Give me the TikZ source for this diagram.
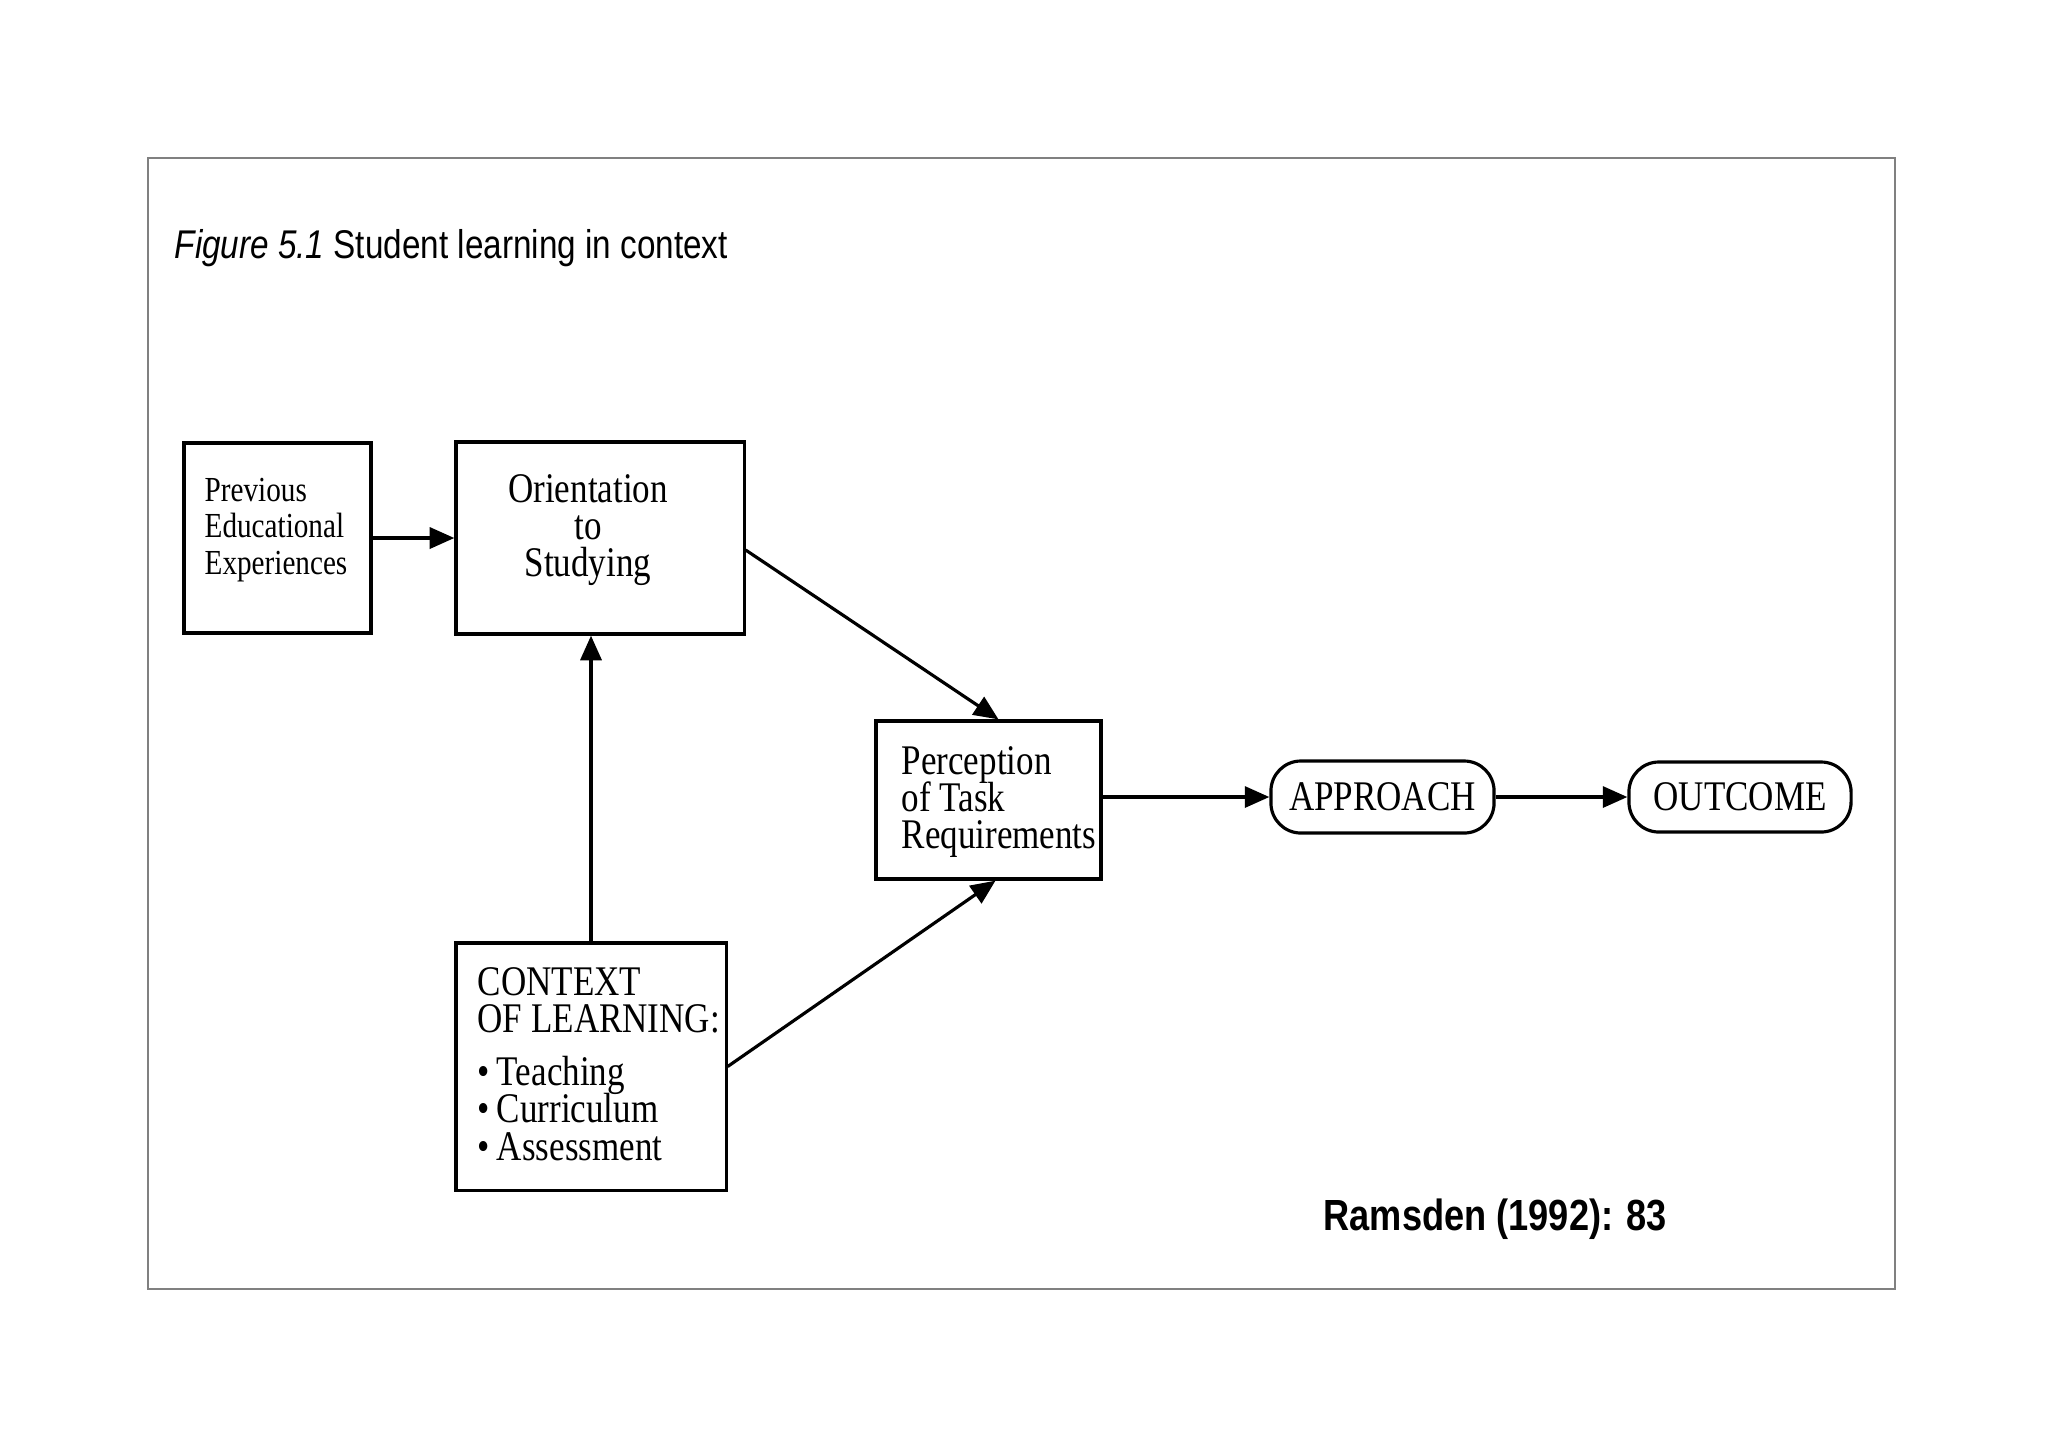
\documentclass[tikz,border=0pt]{standalone}
\usepackage{fontspec}
\setmainfont{Liberation Serif}[FakeStretch=0.83]
\newfontfamily\sansfont{Liberation Sans}[FakeStretch=0.83]
\usetikzlibrary{arrows.meta}
\setlength{\lineskiplimit}{-20pt}
\begin{document}
\begin{tikzpicture}[x=0.01cm,y=-0.01cm,
  box/.style={draw, line width=0.9pt, inner sep=0pt},
  pill/.style={box, rounded corners=0.3cm},
  tx/.style={inner sep=0pt, font=\fontsize{12}{10.6}\selectfont},
  arr/.style={-{Triangle[length=7pt,width=6pt]}, line width=0.9pt}]
\useasboundingbox (0,0) rectangle (2048,1447);
\fill[white] (0,0) rectangle (2048,1447);
\draw[gray, line width=0.5pt] (148,158) rectangle (1895,1289);
% title and source
\node[anchor=base west, inner sep=0pt, font=\sansfont\fontsize{11.4}{13}\selectfont] (title) at (174,258) {\itshape Figure 5.1\upshape\ Student learning in context};
\node[anchor=base west, inner sep=0pt, font=\sansfont\bfseries\fontsize{12.4}{14}\selectfont] (src) at (1323,1230) {Ramsden (1992): 83};
% boxes
\node[box, minimum width=1.87cm, minimum height=1.90cm] (prev) at (277.5,538) {};
\node[box, minimum width=2.88cm, minimum height=1.92cm] (orient) at (600,538) {};
\node[box, minimum width=2.25cm, minimum height=1.58cm] (perc) at (988.5,800) {};
\node[box, minimum width=2.70cm, minimum height=2.47cm] (ctx) at (591,1066.5) {};
\node[pill, minimum width=2.23cm, minimum height=0.72cm, tx] (app) at (1382.5,797) {APPROACH};
\node[pill, minimum width=2.22cm, minimum height=0.70cm, tx] (out) at (1740,797) {OUTCOME};
% texts
\node[tx, anchor=west, align=left, font=\fontsize{10}{10.4}\selectfont] (prevt) at (204,530) {Previous\\Educational\\Experiences};
\node[tx, align=center] (orientt) at (588,530) {Orientation\\to\\Studying};
\node[tx, anchor=west, align=left] (perct) at (901,802) {Perception\\of Task\\Requirements};
\node[tx, anchor=west, align=left] (ctxt) at (477,1064) {CONTEXT\\OF LEARNING:\\[4.5pt]\textbullet\,Teaching\\\textbullet\,Curriculum\\\textbullet\,Assessment};
% connectors
\draw[arr] (prev.east) -- (prev.east -| orient.west);
\draw[arr] (ctx.north) -- (ctx.north |- orient.south);
\draw[arr] ([yshift=-0.12cm]orient.east) -- ([xshift=0.1cm]perc.north);
\draw[arr] (ctx.east) -- ([xshift=0.07cm]perc.south);
\draw[arr] (perc.east |- app.west) -- (app.west);
\draw[arr] (app.east) -- (app.east -| out.west);
\end{tikzpicture}
\end{document}
